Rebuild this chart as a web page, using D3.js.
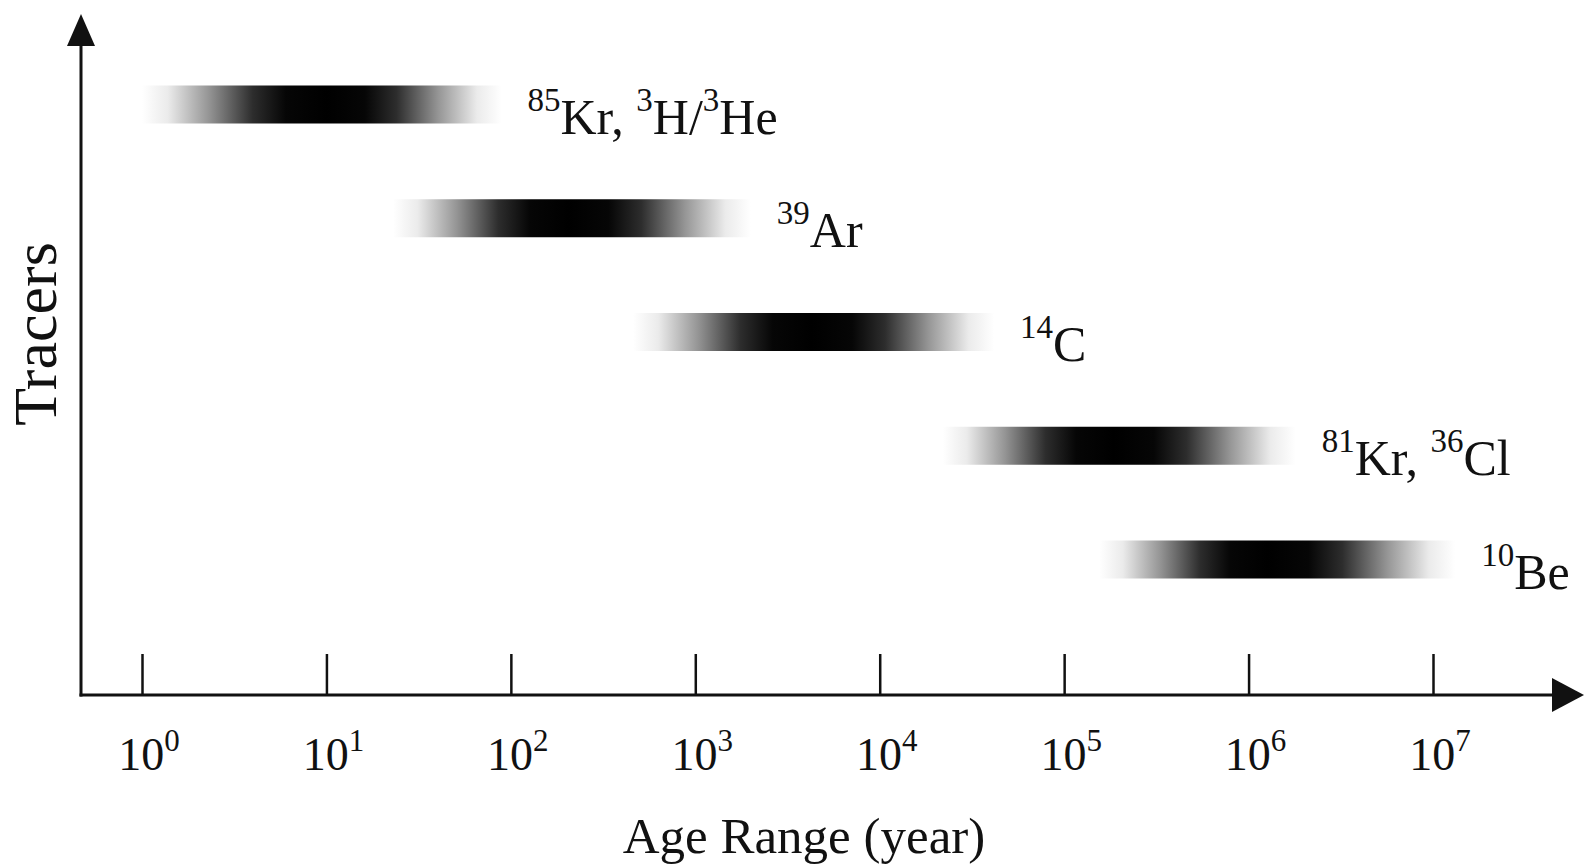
<!DOCTYPE html>
<html>
<head>
<meta charset="utf-8">
<script src="https://cdn.jsdelivr.net/npm/d3@7"></script>
<style>
  body { margin: 0; background: #fff; }
  text { font-family: "Liberation Serif", "Times New Roman", serif; fill: #111; }
</style>
</head>
<body>
<div id="chart"></div>
<script>
// tracer labels as [superscript, text] pieces
const tracers = [
  [["85", "Kr, "], ["3", "H/"], ["3", "He"]],
  [["39", "Ar"]],
  [["14", "C"]],
  [["81", "Kr, "], ["36", "Cl"]],
  [["10", "Be"]]
]
// age ranges (years)
const ageLow = [1, 23, 460, 22000, 155000]
const agePeak = [10, 205, 4300, 186000, 1260000]
const ageHigh = [89, 2000, 41700, 1800000, 13200000]
const tickExponents = [0, 1, 2, 3, 4, 5, 6, 7]

// shading from peak (0) to bar edge (1)
const shade = [
  [0, 0], [0.22, 6], [0.4, 45], [0.64, 150], [0.86, 235], [1, 255]
]

const W = 1589
const H = 868
const axisX = 81
const axisY = 695

const svg = d3.select("#chart").append("svg")
  .attr("width", W)
  .attr("height", H)

const x = d3.scaleLog().domain([1, 1e7]).range([142, 1433])
const y = d3.scalePoint()
  .domain(d3.range(tracers.length))
  .range([104.5, 559.5])
const barH = 38

const defs = svg.append("defs")

// bars
tracers.forEach((t, i) => {
  const x0 = x(ageLow[i])
  const x1 = x(ageHigh[i])
  const p = (x(agePeak[i]) - x0) / (x1 - x0)
  const grad = defs.append("linearGradient")
    .attr("id", "g" + i)
    .attr("x1", 0).attr("x2", 1).attr("y1", 0).attr("y2", 0)
  const stops = []
  shade.slice().reverse().forEach(([d, v]) => stops.push([p - d * p, v]))
  shade.slice(1).forEach(([d, v]) => stops.push([p + d * (1 - p), v]))
  stops.forEach(([o, v]) => {
    grad.append("stop")
      .attr("offset", o)
      .attr("stop-color", d3.rgb(v, v, v))
  })
})

svg.append("g")
  .selectAll("rect")
  .data(tracers)
  .join("rect")
  .attr("x", (d, i) => x(ageLow[i]))
  .attr("width", (d, i) => x(ageHigh[i]) - x(ageLow[i]))
  .attr("y", (d, i) => y(i) - barH / 2)
  .attr("height", barH)
  .attr("fill", (d, i) => `url(#g${i})`)

// tracer labels
const labels = svg.append("g")
  .selectAll("text")
  .data(tracers)
  .join("text")
  .attr("x", (d, i) => x(ageHigh[i]) + 26)
  .attr("y", (d, i) => y(i) + 29)
  .style("font-size", "50px")

labels.each(function (d) {
  const t = d3.select(this)
  d.forEach(([sup, base]) => {
    t.append("tspan").text(sup)
      .style("font-size", "33px")
      .attr("dy", -23)
    t.append("tspan").text(base)
      .attr("dy", 23)
  })
})

// x ticks
const xAxis = svg.append("g")
  .attr("transform", `translate(0,${axisY})`)
  .call(
    d3.axisTop(x)
      .tickValues(tickExponents.map((e) => Math.pow(10, e)))
      .tickSize(41)
      .tickFormat("")
  )
xAxis.select(".domain").remove()
xAxis.selectAll(".tick line").attr("stroke", "#111").attr("stroke-width", 2.5)

const tickLabels = svg.append("g")
  .selectAll("text")
  .data(tickExponents)
  .join("text")
  .attr("x", (e) => x(Math.pow(10, e)) + 7)
  .attr("y", 770)
  .attr("text-anchor", "middle")
  .style("font-size", "46px")
tickLabels.append("tspan").text("10")
tickLabels.append("tspan")
  .text((e) => e)
  .style("font-size", "31px")
  .attr("dy", -19)

// axes with arrows
svg.append("line")
  .attr("x1", axisX).attr("x2", axisX)
  .attr("y1", 40).attr("y2", axisY + 1.5)
  .attr("stroke", "#111").attr("stroke-width", 3)
svg.append("line")
  .attr("x1", axisX - 1.5).attr("x2", 1556)
  .attr("y1", axisY).attr("y2", axisY)
  .attr("stroke", "#111").attr("stroke-width", 3)
svg.append("path")
  .attr("d", `M${axisX},14 L${axisX + 14},46 L${axisX - 14},46 Z`)
  .attr("fill", "#111")
svg.append("path")
  .attr("d", `M1584,${axisY} L1552,${axisY - 17} L1552,${axisY + 17} Z`)
  .attr("fill", "#111")

// axis titles
svg.append("text")
  .attr("x", 804)
  .attr("y", 853)
  .attr("text-anchor", "middle")
  .style("font-size", "51px")
  .text("Age Range (year)")

svg.append("text")
  .attr("transform", "translate(56,334) rotate(-90)")
  .attr("text-anchor", "middle")
  .style("font-size", "62px")
  .text("Tracers")
</script>
</body>
</html>
